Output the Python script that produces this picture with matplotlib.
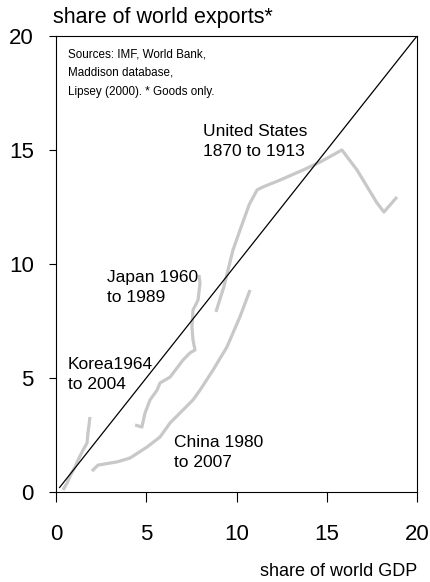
import matplotlib
matplotlib.use("Agg")
import matplotlib.pyplot as plt

plt.rcParams['font.family'] = ['Liberation Sans', 'DejaVu Sans']

# Data (share of world GDP, share of world exports)
us_gdp = [8.86, 9.3, 9.8, 10.2, 10.7, 11.14, 11.47, 12.41, 13.68, 14.63, 15.84, 16.68, 17.78, 18.17, 18.89]
us_exp = [7.9, 9.0, 10.6, 11.5, 12.6, 13.25, 13.38, 13.68, 14.12, 14.47, 15.0, 14.12, 12.68, 12.28, 12.94]

japan_gdp = [4.38, 4.76, 4.93, 5.21, 5.60, 5.76, 6.32, 7.04, 7.42, 7.70, 7.59, 7.53, 7.59, 7.87, 7.98, 7.92]
japan_exp = [2.94, 2.85, 3.46, 4.04, 4.47, 4.78, 5.04, 5.79, 6.10, 6.23, 6.67, 7.24, 7.98, 8.42, 9.17, 9.52]

korea_gdp = [0.39, 0.61, 0.78, 1.05, 1.22, 1.50, 1.72, 1.77, 1.83, 1.88]
korea_exp = [0.09, 0.39, 0.70, 1.10, 1.40, 1.84, 2.15, 2.59, 2.94, 3.29]

china_gdp = [1.99, 2.33, 3.38, 4.10, 5.04, 5.76, 6.32, 7.04, 7.59, 7.98, 8.70, 9.47, 10.19, 10.75]
china_exp = [0.92, 1.18, 1.32, 1.49, 1.97, 2.41, 3.03, 3.60, 4.04, 4.47, 5.35, 6.36, 7.68, 8.86]

diag = [0.2, 20]
ticks = [0, 5, 10, 15, 20]

fig = plt.figure(figsize=(4.3, 5.82), dpi=100)
ax = fig.add_axes([56/430, 1-492/582, (417-56)/430, (492-36)/582])

gray = '#c8c8c8'
for gx, gy in [(us_gdp, us_exp), (japan_gdp, japan_exp), (korea_gdp, korea_exp), (china_gdp, china_exp)]:
    ax.plot(gx, gy, color=gray, lw=2.3, solid_capstyle='butt', solid_joinstyle='round')
ax.plot(diag, diag, color='black', lw=0.9)

ax.set_xlim(0, 20)
ax.set_ylim(0, 20)
ax.set_xticks(ticks)
ax.set_yticks(ticks)
ax.set_xticklabels([str(t) for t in ticks])
ax.set_yticklabels([str(t) for t in ticks])
ax.tick_params(axis='both', direction='out', labelsize=16, width=0.8, color='black')
ax.tick_params(axis='y', length=5, pad=11)
ax.tick_params(axis='x', length=7, pad=16)
for s in ax.spines.values():
    s.set_linewidth(0.8)

fig.text(53/430, 1-18/582, 'share of world exports*', fontsize=15.5, ha='left', va='center')
fig.text(417/430, 1-572/582, 'share of world GDP', fontsize=13, ha='right', va='center')

ax.text(0.66, 19.47, 'Sources: IMF, World Bank,\nMaddison database,\nLipsey (2000). * Goods only.',
        fontsize=8.4, ha='left', va='top', linespacing=1.75)
lab = dict(fontsize=12.5, ha='left', va='top', linespacing=1.45)
ax.text(8.14, 16.14, 'United States\n1870 to 1913', **lab)
ax.text(2.83, 9.75, 'Japan 1960\nto 1989', **lab)
ax.text(0.66, 5.92, 'Korea1964\nto 2004', **lab)
ax.text(6.54, 2.5, 'China 1980\nto 2007', **lab)

fig.savefig('out.png', dpi=100)
